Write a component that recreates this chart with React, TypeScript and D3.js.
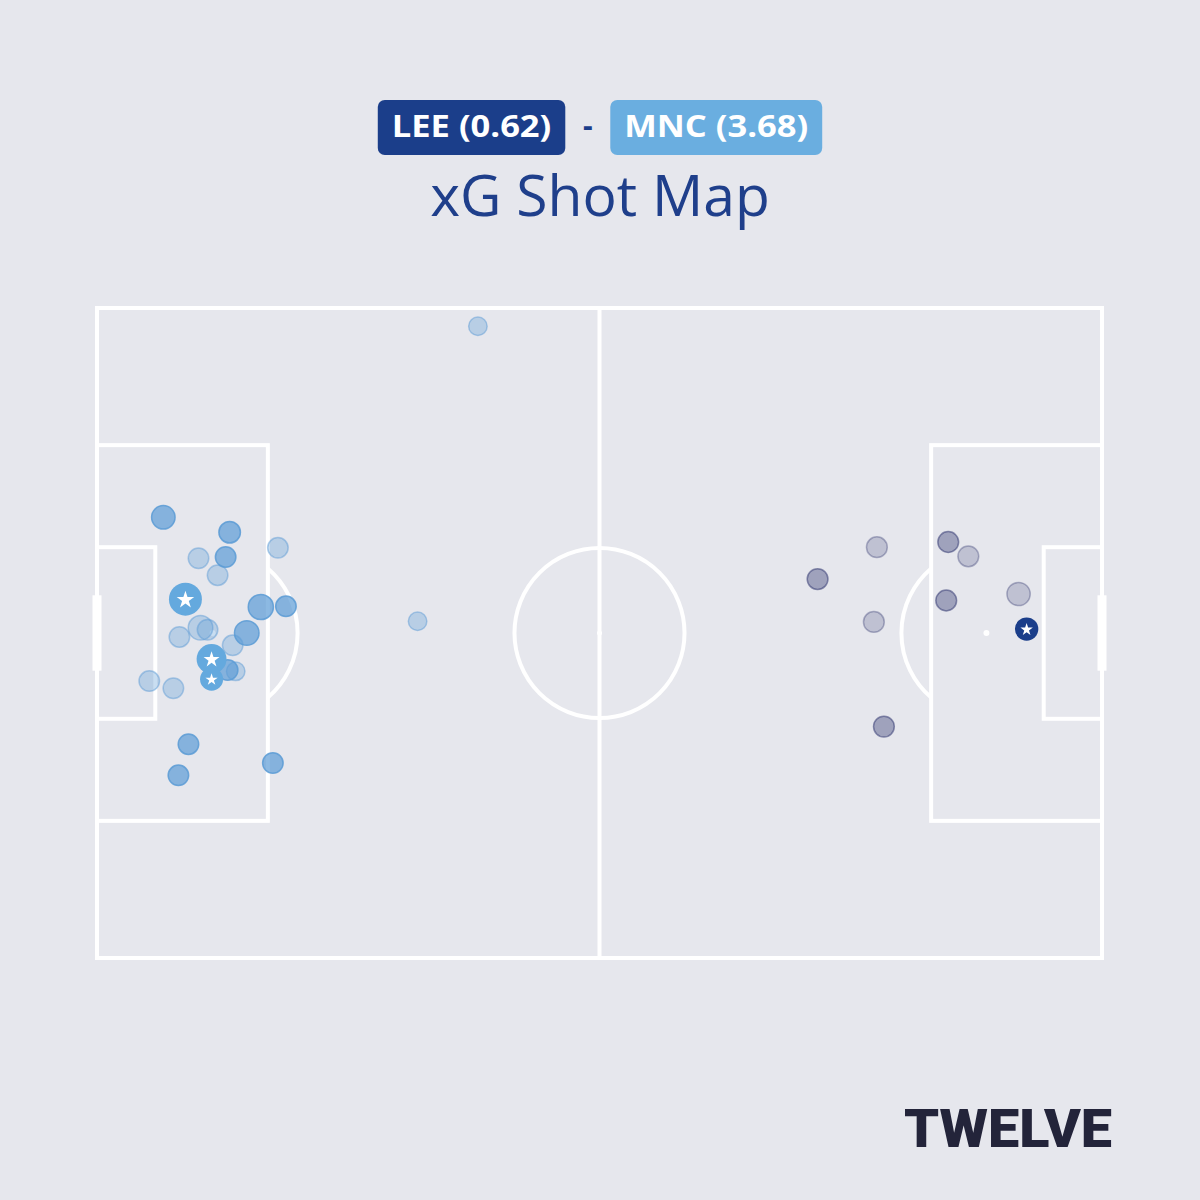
import * as d3 from "d3";
import { useEffect, useRef } from "react";

const WIDTH = 1200;
const HEIGHT = 1200;

const homeLabel = "LEE (0.62)";
const awayLabel = "MNC (3.68)";
const title = "xG Shot Map";

type Outcome = "goal" | "on" | "off";

// Shots in Opta pitch units (0-100), x left -> right, y top -> bottom
// LEE attack the right-hand goal
const leeX = [77.6, 71.7, 84.7, 86.7, 84.5, 91.7, 77.3, 92.5, 78.3];
const leeY = [36.8, 41.7, 36.0, 38.2, 45.0, 44.0, 48.3, 49.4, 64.4];
const leeXg = [0.056, 0.056, 0.056, 0.056, 0.056, 0.14, 0.056, 0.09, 0.056];
const leeOutcome: Outcome[] = ["off", "on", "on", "off", "on", "off", "off", "goal", "on"];

// MNC attack the left-hand goal
const mncX = [
	6.6, 13.2, 18.0, 10.1, 12.8, 12.0, 8.8, 16.3, 18.8, 8.2, 10.3, 11.0, 14.9,
	13.5, 11.4, 13.0, 13.8, 11.4, 5.2, 7.6, 9.1, 8.1, 17.5, 37.9, 31.9,
];
const mncY = [
	32.2, 34.5, 36.9, 38.5, 38.3, 41.1, 44.8, 46.0, 45.9, 50.6, 49.2, 49.5, 50.0,
	51.9, 54.0, 55.7, 55.9, 57.1, 57.4, 58.5, 67.1, 71.9, 70.0, 2.8, 48.2,
];
const mncXg = [
	0.15, 0.077, 0.049, 0.049, 0.049, 0.049, 0.69, 0.23, 0.049, 0.049, 0.2,
	0.049, 0.2, 0.049, 0.44, 0.049, 0.012, 0.077, 0.049, 0.049, 0.049, 0.049,
	0.049, 0.012, 0.012,
];
const mncOutcome: Outcome[] = [
	"on", "on", "off", "off", "on", "off", "goal", "on", "on", "off", "off",
	"off", "on", "off", "goal", "on", "off", "goal", "off", "off", "on", "on",
	"on", "off", "off",
];

const BG = "#E6E7ED";
const NAVY = "#1B3E8A";
const LIGHT_BLUE = "#6AAEE0";
const INK = "#23243A";

interface Shot {
	x: number;
	y: number;
	xg: number;
	outcome: Outcome;
}

interface TeamStyle {
	dot: string;
	goal: string;
	onAlpha: number;
	offAlpha: number;
}

function buildShots(xs: number[], ys: number[], xgs: number[], outs: Outcome[]): Shot[] {
	return xs.map((x, i) => ({ x, y: ys[i], xg: xgs[i], outcome: outs[i] }));
}

const order: Record<Outcome, number> = { off: 0, on: 1, goal: 2 };

export default function App() {
	const svgRef = useRef<SVGSVGElement>(null);

	useEffect(() => {
		document.body.style.margin = "0";
		document.body.style.background = BG;
		if (!svgRef.current) return;

		const svg = d3.select(svgRef.current);
		svg.selectAll("*").remove();

		svg.append("rect").attr("width", WIDTH).attr("height", HEIGHT).attr("fill", BG);

		// Pitch scales (Opta units -> pixels)
		const x = d3.scaleLinear().domain([0, 100]).range([97, 1102]);
		const y = d3.scaleLinear().domain([0, 100]).range([308, 958]);
		const r = d3.scaleSqrt().domain([0, 1]).range([9, 18]);

		const pitch = svg
			.append("g")
			.attr("fill", "none")
			.attr("stroke", "white")
			.attr("stroke-width", 4);

		pitch
			.append("rect")
			.attr("x", x(0))
			.attr("y", y(0))
			.attr("width", x(100) - x(0))
			.attr("height", y(100) - y(0));

		pitch
			.append("line")
			.attr("x1", x(50))
			.attr("x2", x(50))
			.attr("y1", y(0))
			.attr("y2", y(100));

		const circleR = x(8.46) - x(0);
		pitch.append("circle").attr("cx", x(50)).attr("cy", y(50)).attr("r", circleR);

		// Boxes on both ends
		[
			{ side: 0, dir: 1 },
			{ side: 100, dir: -1 },
		].forEach(({ side, dir }) => {
			const boxes = [
				{ depth: 17, top: 21.1, bottom: 78.9 },
				{ depth: 5.8, top: 36.8, bottom: 63.2 },
			];
			boxes.forEach((b) => {
				const x0 = Math.min(x(side), x(side + dir * b.depth));
				const x1 = Math.max(x(side), x(side + dir * b.depth));
				pitch
					.append("rect")
					.attr("x", x0)
					.attr("y", y(b.top))
					.attr("width", x1 - x0)
					.attr("height", y(b.bottom) - y(b.top));
			});

			// penalty arc outside the box
			const spotX = x(side + dir * 11.5);
			const a = Math.acos((x(17) - x(11.5)) / circleR);
			const p = d3.path();
			if (dir === 1) {
				p.arc(spotX, y(50), circleR, -a, a);
			} else {
				p.arc(spotX, y(50), circleR, Math.PI - a, Math.PI + a);
			}
			pitch.append("path").attr("d", p.toString());

			svg
				.append("circle")
				.attr("cx", spotX)
				.attr("cy", y(50))
				.attr("r", 3)
				.attr("fill", "white");

			// goal
			svg
				.append("rect")
				.attr("x", x(side) - 4.5)
				.attr("y", y(44.2))
				.attr("width", 9)
				.attr("height", y(55.8) - y(44.2))
				.attr("fill", "white");
		});

		svg.append("circle").attr("cx", x(50)).attr("cy", y(50)).attr("r", 2.5).attr("fill", "white");

		// Shots
		const drawShots = (shots: Shot[], style: TeamStyle) => {
			const sorted = [...shots].sort((a, b) => order[a.outcome] - order[b.outcome]);
			const g = svg.append("g");
			sorted.forEach((s) => {
				const cx = x(s.x);
				const cy = y(s.y);
				const rad = r(s.xg);
				if (s.outcome === "goal") {
					g.append("circle")
						.attr("cx", cx)
						.attr("cy", cy)
						.attr("r", rad)
						.attr("fill", style.goal);
					const starR = rad * 0.56;
					g.append("path")
						.attr("transform", `translate(${cx},${cy + starR * 0.08})`)
						.attr("d", d3.symbol(d3.symbolStar, (starR * starR) / 0.8908130915292852)())
						.attr("fill", "white");
				} else {
					const alpha = s.outcome === "on" ? style.onAlpha : style.offAlpha;
					g.append("circle")
						.attr("cx", cx)
						.attr("cy", cy)
						.attr("r", rad - 0.75)
						.attr("fill", style.dot)
						.attr("fill-opacity", alpha)
						.attr("stroke", style.dot)
						.attr("stroke-opacity", Math.min(1, alpha + 0.15))
						.attr("stroke-width", 1.5);
				}
			});
		};

		drawShots(buildShots(mncX, mncY, mncXg, mncOutcome), {
			dot: "#5B9BD5",
			goal: "#64A9DE",
			onAlpha: 0.7,
			offAlpha: 0.33,
		});
		drawShots(buildShots(leeX, leeY, leeXg, leeOutcome), {
			dot: "#353B72",
			goal: NAVY,
			onAlpha: 0.4,
			offAlpha: 0.22,
		});

		// Header badges
		const header = svg
			.append("g")
			.attr("font-family", "'Open Sans', sans-serif")
			.attr("font-stretch", "normal");
		const pad = 14;
		const gap = 45;
		const badgeY = 100;
		const badgeH = 55;
		const badgeFont = 30;
		const widen = 1.15; // the badge face in the reference is wider than Open Sans

		const measure = (label: string) => {
			const t = header
				.append("text")
				.attr("font-size", badgeFont)
				.attr("font-weight", 700)
				.text(label);
			const w = (t.node() as SVGTextElement).getComputedTextLength();
			t.remove();
			return w * widen;
		};
		const t1 = measure(homeLabel);
		const t2 = measure(awayLabel);
		const w1 = t1 + pad * 2;
		const w2 = t2 + pad * 2;
		const start = WIDTH / 2 - (w1 + gap + w2) / 2;

		const badges = [
			{ label: homeLabel, x0: start, w: w1, tw: t1, fill: NAVY },
			{ label: awayLabel, x0: start + w1 + gap, w: w2, tw: t2, fill: LIGHT_BLUE },
		];
		badges.forEach((b) => {
			header
				.append("rect")
				.attr("x", b.x0)
				.attr("y", badgeY)
				.attr("width", b.w)
				.attr("height", badgeH)
				.attr("rx", 7)
				.attr("fill", b.fill);
			header
				.append("text")
				.attr("x", b.x0 + b.w / 2)
				.attr("y", 137)
				.attr("text-anchor", "middle")
				.attr("font-size", badgeFont)
				.attr("font-weight", 700)
				.attr("textLength", b.tw)
				.attr("lengthAdjust", "spacingAndGlyphs")
				.attr("fill", "white")
				.text(b.label);
		});
		header
			.append("text")
			.attr("x", start + w1 + gap / 2)
			.attr("y", 136)
			.attr("text-anchor", "middle")
			.attr("font-size", badgeFont)
			.attr("font-weight", 700)
			.attr("fill", NAVY)
			.text("-");

		header
			.append("text")
			.attr("x", WIDTH / 2)
			.attr("y", 216)
			.attr("text-anchor", "middle")
			.attr("font-size", 57)
			.attr("font-weight", 400)
			.attr("fill", "#1F3F8B")
			.text(title);

		// Logo
		svg
			.append("text")
			.attr("x", 1112)
			.attr("y", 1147)
			.attr("text-anchor", "end")
			.attr("font-family", "Roboto, Lato, sans-serif")
			.attr("font-weight", 900)
			.attr("font-size", 54)
			.attr("textLength", 208)
			.attr("lengthAdjust", "spacingAndGlyphs")
			.attr("fill", INK)
			.text("TWELVE");
	}, []);

	return <svg ref={svgRef} width={WIDTH} height={HEIGHT} style={{ display: "block" }} />;
}
